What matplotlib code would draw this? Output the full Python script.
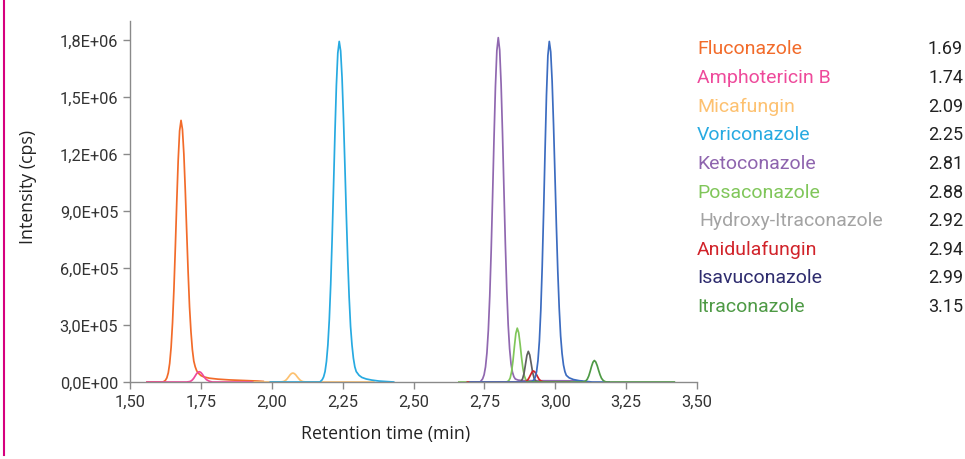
import numpy as np
import matplotlib
matplotlib.use("Agg")
import matplotlib.pyplot as plt
from matplotlib.ticker import FuncFormatter

# compound names, retention times (legend) and colours
names = ["Fluconazole", "Amphotericin B", "Micafungin", "Voriconazole", "Ketoconazole",
         "Posaconazole", "Hydroxy-Itraconazole", "Anidulafungin", "Isavuconazole", "Itraconazole"]
rt_labels = ["1.69", "1.74", "2.09", "2.25", "2.81", "2.88", "2.92", "2.94", "2.99", "3.15"]
text_colors = ["#F26B2A", "#EE4A9B", "#FDC170", "#27AAE1", "#8E64AE",
               "#80C65A", "#A3A3A3", "#D1232A", "#2E2C6E", "#4E9A45"]
line_colors = ["#F26B2A", "#EE4A9B", "#FDC170", "#27AAE1", "#9068B0",
               "#80C65A", "#606060", "#D1232A", "#3C6CC0", "#4E9A45"]

x_ticks = [1.50, 1.75, 2.00, 2.25, 2.50, 2.75, 3.00, 3.25, 3.50]
y_ticks = [0, 3e5, 6e5, 9e5, 1.2e6, 1.5e6, 1.8e6]

# traces: time (min), intensity (kcps)
flu_t = [1.560, 1.615, 1.620, 1.625, 1.630, 1.635, 1.640, 1.645, 1.650, 1.655, 1.660, 1.665,
         1.670, 1.675, 1.680, 1.685, 1.690, 1.695, 1.700, 1.705, 1.710, 1.715, 1.720, 1.725,
         1.730, 1.735, 1.740, 1.750, 1.760, 1.780, 1.810, 1.850, 1.900, 1.950, 1.970]
flu_v = [0, 0, 3, 9, 22, 48, 98, 182, 311, 490, 711, 949,
         1166, 1320, 1375, 1328, 1198, 1008, 791, 579, 395, 265, 170, 110,
         80, 60, 48, 34, 27, 20, 15, 11, 8, 5, 3]

amb_t = [1.560, 1.700, 1.710, 1.715, 1.720, 1.725, 1.730, 1.735, 1.740, 1.745, 1.750,
         1.755, 1.760, 1.765, 1.770, 1.780, 1.790, 1.930]
amb_v = [0, 0, 2, 5, 11, 20, 32, 44, 52, 54, 50, 41, 30, 20, 12, 4, 0, 0]

mica_t = [1.940, 2.030, 2.040, 2.045, 2.050, 2.055, 2.060, 2.065, 2.070, 2.075, 2.080,
          2.085, 2.090, 2.095, 2.100, 2.105, 2.110, 2.120, 2.360]
mica_v = [0, 0, 2, 5, 10, 18, 28, 38, 45, 47, 44, 37, 27, 18, 10, 5, 2, 0, 0]

vori_t = [1.995, 2.170, 2.178, 2.183, 2.188, 2.193, 2.198, 2.203, 2.208, 2.213, 2.218, 2.223,
          2.228, 2.233, 2.238, 2.243, 2.248, 2.253, 2.258, 2.263, 2.268, 2.273, 2.278, 2.283,
          2.288, 2.293, 2.298, 2.308, 2.318, 2.333, 2.353, 2.378, 2.408, 2.430]
vori_v = [0, 0, 12, 27, 55, 108, 195, 328, 514, 754, 1029, 1312,
          1559, 1729, 1790, 1740, 1599, 1387, 1137, 881, 645, 446, 292, 195,
          125, 80, 55, 35, 24, 16, 10, 5, 2, 0]

keto_t = [2.700, 2.735, 2.739, 2.744, 2.749, 2.754, 2.759, 2.764, 2.769, 2.774, 2.779, 2.784,
          2.789, 2.794, 2.799, 2.804, 2.809, 2.814, 2.819, 2.824, 2.829, 2.834, 2.839, 2.844,
          2.849, 2.854, 2.859, 2.869, 2.889, 3.090, 3.100]
keto_v = [0, 0, 7, 17, 38, 79, 153, 273, 451, 690, 977, 1280,
          1551, 1741, 1810, 1745, 1565, 1305, 1010, 725, 485, 300, 175, 95,
          52, 28, 16, 10, 7, 6, 0]

posa_t = [2.660, 2.826, 2.831, 2.836, 2.841, 2.846, 2.851, 2.856, 2.861, 2.866, 2.871,
          2.876, 2.881, 2.886, 2.891, 2.896, 2.901, 2.906, 2.911, 3.050]
posa_v = [0, 0, 2, 7, 21, 54, 112, 187, 255, 283, 259, 200, 130, 71, 32, 12, 4, 1, 0, 0]

hitra_t = [2.800, 2.875, 2.880, 2.885, 2.890, 2.895, 2.900, 2.905, 2.910, 2.915, 2.920,
           2.925, 2.930, 2.935, 2.940, 3.050]
hitra_v = [0, 1, 5, 18, 46, 93, 140, 161, 142, 98, 52, 22, 7, 2, 0, 0]

anid_t = [2.690, 2.890, 2.893, 2.898, 2.903, 2.908, 2.913, 2.918, 2.923, 2.928, 2.933,
          2.938, 2.943, 2.948, 2.953, 2.958, 2.965, 3.050]
anid_v = [0, 0, 1, 4, 11, 23, 38, 52, 58, 53, 41, 27, 14, 7, 3, 1, 0, 0]

isav_t = [2.700, 2.915, 2.919, 2.924, 2.929, 2.934, 2.939, 2.944, 2.949, 2.954, 2.959, 2.964,
          2.969, 2.974, 2.979, 2.984, 2.989, 2.994, 2.999, 3.004, 3.009, 3.014, 3.019, 3.024,
          3.029, 3.034, 3.039, 3.049, 3.064, 3.084, 3.109, 3.130, 3.190]
isav_v = [0, 0, 4, 10, 24, 54, 112, 215, 377, 607, 896, 1213,
          1506, 1715, 1790, 1735, 1580, 1351, 1086, 820, 581, 387, 242, 150,
          90, 55, 35, 22, 13, 7, 3, 0, 0]

itra_t = [2.900, 3.098, 3.103, 3.108, 3.113, 3.118, 3.123, 3.128, 3.133, 3.138, 3.143,
          3.148, 3.153, 3.158, 3.163, 3.168, 3.173, 3.178, 3.183, 3.420]
itra_v = [0, 0, 2, 6, 15, 31, 55, 82, 104, 113, 105, 86, 61, 38, 20, 10, 4, 1, 0, 0]

traces = [(flu_t, flu_v), (amb_t, amb_v), (mica_t, mica_v), (vori_t, vori_v),
          (keto_t, keto_v), (posa_t, posa_v), (hitra_t, hitra_v), (anid_t, anid_v),
          (isav_t, isav_v), (itra_t, itra_v)]

plt.rcParams["font.family"] = ["Roboto", "DejaVu Sans"]

fig = plt.figure(figsize=(9.65, 4.6), dpi=100)
ax = fig.add_axes([130 / 965, 77 / 460, 567 / 965, 361.5 / 460])

for (t, v), c in zip(traces, line_colors):
    ax.plot(t, np.array(v) * 1e3, color=c, lw=1.25)

ax.set_xlim(1.5, 3.5)
ax.set_ylim(0, 1.9e6)
ax.set_xticks(x_ticks)
ax.set_yticks(y_ticks)
ax.xaxis.set_major_formatter(FuncFormatter(lambda x, p: f"{x:.2f}".replace(".", ",")))


def sci_fmt(y, p):
    if y <= 0:
        return "0,0E+00"
    e = int(np.floor(np.log10(y)))
    return f"{y / 10**e:.1f}".replace(".", ",") + f"E+{e:02d}"


ax.yaxis.set_major_formatter(FuncFormatter(sci_fmt))
for s in ["top", "right"]:
    ax.spines[s].set_visible(False)
for s in ["left", "bottom"]:
    ax.spines[s].set_color("#8a8a8a")
    ax.spines[s].set_linewidth(1.0)
ax.tick_params(colors="#8a8a8a", labelcolor="#333333", labelsize=11.8, length=5, width=1)

ax.set_xlabel("Retention time (min)", fontsize=12.8, family=["Open Sans", "DejaVu Sans"],
              color="#222222", va="center")
ax.set_ylabel("Intensity (cps)", fontsize=12.8, family=["Open Sans", "DejaVu Sans"],
              color="#222222", va="center")
ax.xaxis.set_label_coords((385.5 - 130) / 567, (383 - 434) / 361.5)
ax.yaxis.set_label_coords((28 - 130) / 567, (383 - 186.5) / 361.5)

# side list of compounds with retention times
row_y = [49, 78, 107, 135, 164, 193, 221, 250, 278, 307]
for name, rt, c, yy in zip(names, rt_labels, text_colors, row_y):
    x0 = 699 if name.startswith("Hydroxy") else 697
    fig.text(x0 / 965, 1 - yy / 460, name, color=c, fontsize=14, va="center", ha="left")
    fig.text(963 / 965, 1 - yy / 460, rt, color="#222222", fontsize=13, va="center", ha="right")

# magenta rule at left edge
fig.add_artist(plt.Line2D([4 / 965, 4 / 965], [1.0, 1 - 456 / 460],
                          transform=fig.transFigure, color="#D6007E", lw=1.5))

fig.savefig("out.png", dpi=100)
